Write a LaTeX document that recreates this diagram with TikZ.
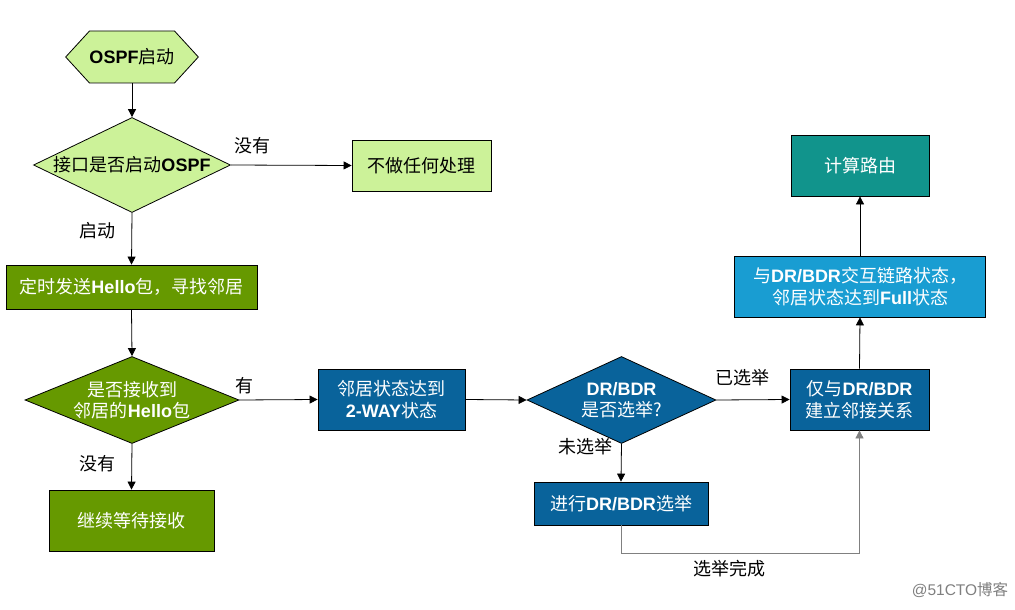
\documentclass[tikz,border=0pt]{standalone}
\usepackage{fontspec}
\setmainfont{Noto Sans CJK SC}
\newfontfamily\latfont{Liberation Sans}
\newcommand{\latb}[1]{{\latfont\bfseries #1}}
\usetikzlibrary{shapes.geometric,shapes.symbols,arrows.meta}
\definecolor{ltgreen}{RGB}{204,242,153}
\definecolor{dkgreen}{RGB}{102,153,0}
\definecolor{dkblue}{RGB}{9,99,155}
\definecolor{ltblue}{RGB}{25,157,210}
\definecolor{tealc}{RGB}{17,148,140}
\begin{document}
\begin{tikzpicture}[x=1pt,y=-1pt,
  txt/.style={font=\fontsize{18}{21.5}\selectfont, align=center},
  boxa/.style={draw=black, line width=0.8pt, rectangle, inner sep=0pt, txt},
  dia/.style={draw=black, line width=0.8pt, diamond, inner sep=0pt},
  lab/.style={txt, text=black},
  conn/.style={line width=0.8pt, -{Triangle[length=8pt,width=8pt]}},
  plain/.style={line width=0.8pt}
]
\useasboundingbox (0,0) rectangle (1015,610);
\fill[white] (0,0) rectangle (1015,610);

% start hexagon
\node[signal, signal to=west and east, signal pointer angle=95, draw=black, line width=0.8pt, fill=ltgreen,
      minimum width=130pt, minimum height=52pt, inner sep=0pt, txt] (start) at (132,57) {\latb{OSPF}启动};

% decision 1
\node[dia, fill=ltgreen, minimum width=197pt, minimum height=95pt] (d1) at (132,165) {};
\node[txt] (d1t) at (132,165) {接口是否启动\latb{OSPF}};

\node[boxa, fill=ltgreen, minimum width=139pt, minimum height=51pt] (none) at (421.5,165.5) {不做任何处理};

\node[boxa, fill=dkgreen, text=white, minimum width=251pt, minimum height=44pt] (hello) at (131.5,287) {定时发送\latb{Hello}包，寻找邻居};

% decision 2
\node[dia, fill=dkgreen, minimum width=214pt, minimum height=87pt] (d2) at (132,400) {};
\node[txt, text=white] (d2t) at (132,400) {是否接收到\\邻居的\latb{Hello}包};

\node[boxa, fill=dkgreen, text=white, minimum width=165pt, minimum height=61pt] (wait) at (131.5,520.5) {继续等待接收};

\node[boxa, fill=dkblue, text=white, minimum width=147pt, minimum height=61pt] (way) at (391.5,399.5) {邻居状态达到\\\latb{2-WAY}状态};

% decision 3
\node[dia, fill=dkblue, minimum width=189pt, minimum height=87pt] (d3) at (621.5,400) {};
\node[txt, text=white] (d3t) at (621.5,400) {\latb{DR/BDR}\\是否选举?};

\node[boxa, fill=dkblue, text=white, minimum width=139pt, minimum height=61pt] (adj) at (859.5,399.5) {仅与\latb{DR/BDR}\\建立邻接关系};

\node[boxa, fill=dkblue, text=white, minimum width=174pt, minimum height=43pt] (elect) at (621,503.5) {进行\latb{DR/BDR}选举};

\node[boxa, fill=ltblue, text=white, minimum width=251pt, minimum height=61pt] (full) at (860,286.5) {与\latb{DR/BDR}交互链路状态，\\ 邻居状态达到\latb{Full}状态};

\node[boxa, fill=tealc, text=white, minimum width=138pt, minimum height=61pt] (route) at (860,165.5) {计算路由};

% connectors
\draw[conn] (start.south) -- (d1.north);
\draw[conn] (d1.east) -- (none.west);
\draw[conn] (d1.south) -- (hello.north);
\draw[conn] (hello.south) -- (d2.north);
\draw[conn] (d2.east) -- (way.west);
\draw[conn] (d2.south) -- (wait.north);
\draw[conn] (way.east) -- (d3.west);
\draw[conn] (d3.east) -- (adj.west);
\draw[conn] (d3.south) -- (elect.north);
\coordinate (bend) at (621,553);
\draw[line width=0.8pt, draw=gray, -{Triangle[length=8pt,width=8pt]}] (elect.south) -- (bend) -| (adj.south);
\draw[conn] (adj.north) -- (full.south);
\draw[conn] (full.north) -- (route.south);

% labels
\node[lab] (l1) at (252,146) {没有};
\node[lab] (l2) at (97,231) {启动};
\node[lab] (l3) at (244,386) {有};
\node[lab] (l4) at (97,464) {没有};
\node[lab] (l5) at (742,378) {已选举};
\node[lab] (l6) at (585,447) {未选举};
\node[lab] (l7) at (729,569) {选举完成};

\node[font=\fontsize{15.5}{18}\selectfont, text=gray] (wm) at (960,590) {{\latfont @51CTO}博客};
\end{tikzpicture}
\end{document}
